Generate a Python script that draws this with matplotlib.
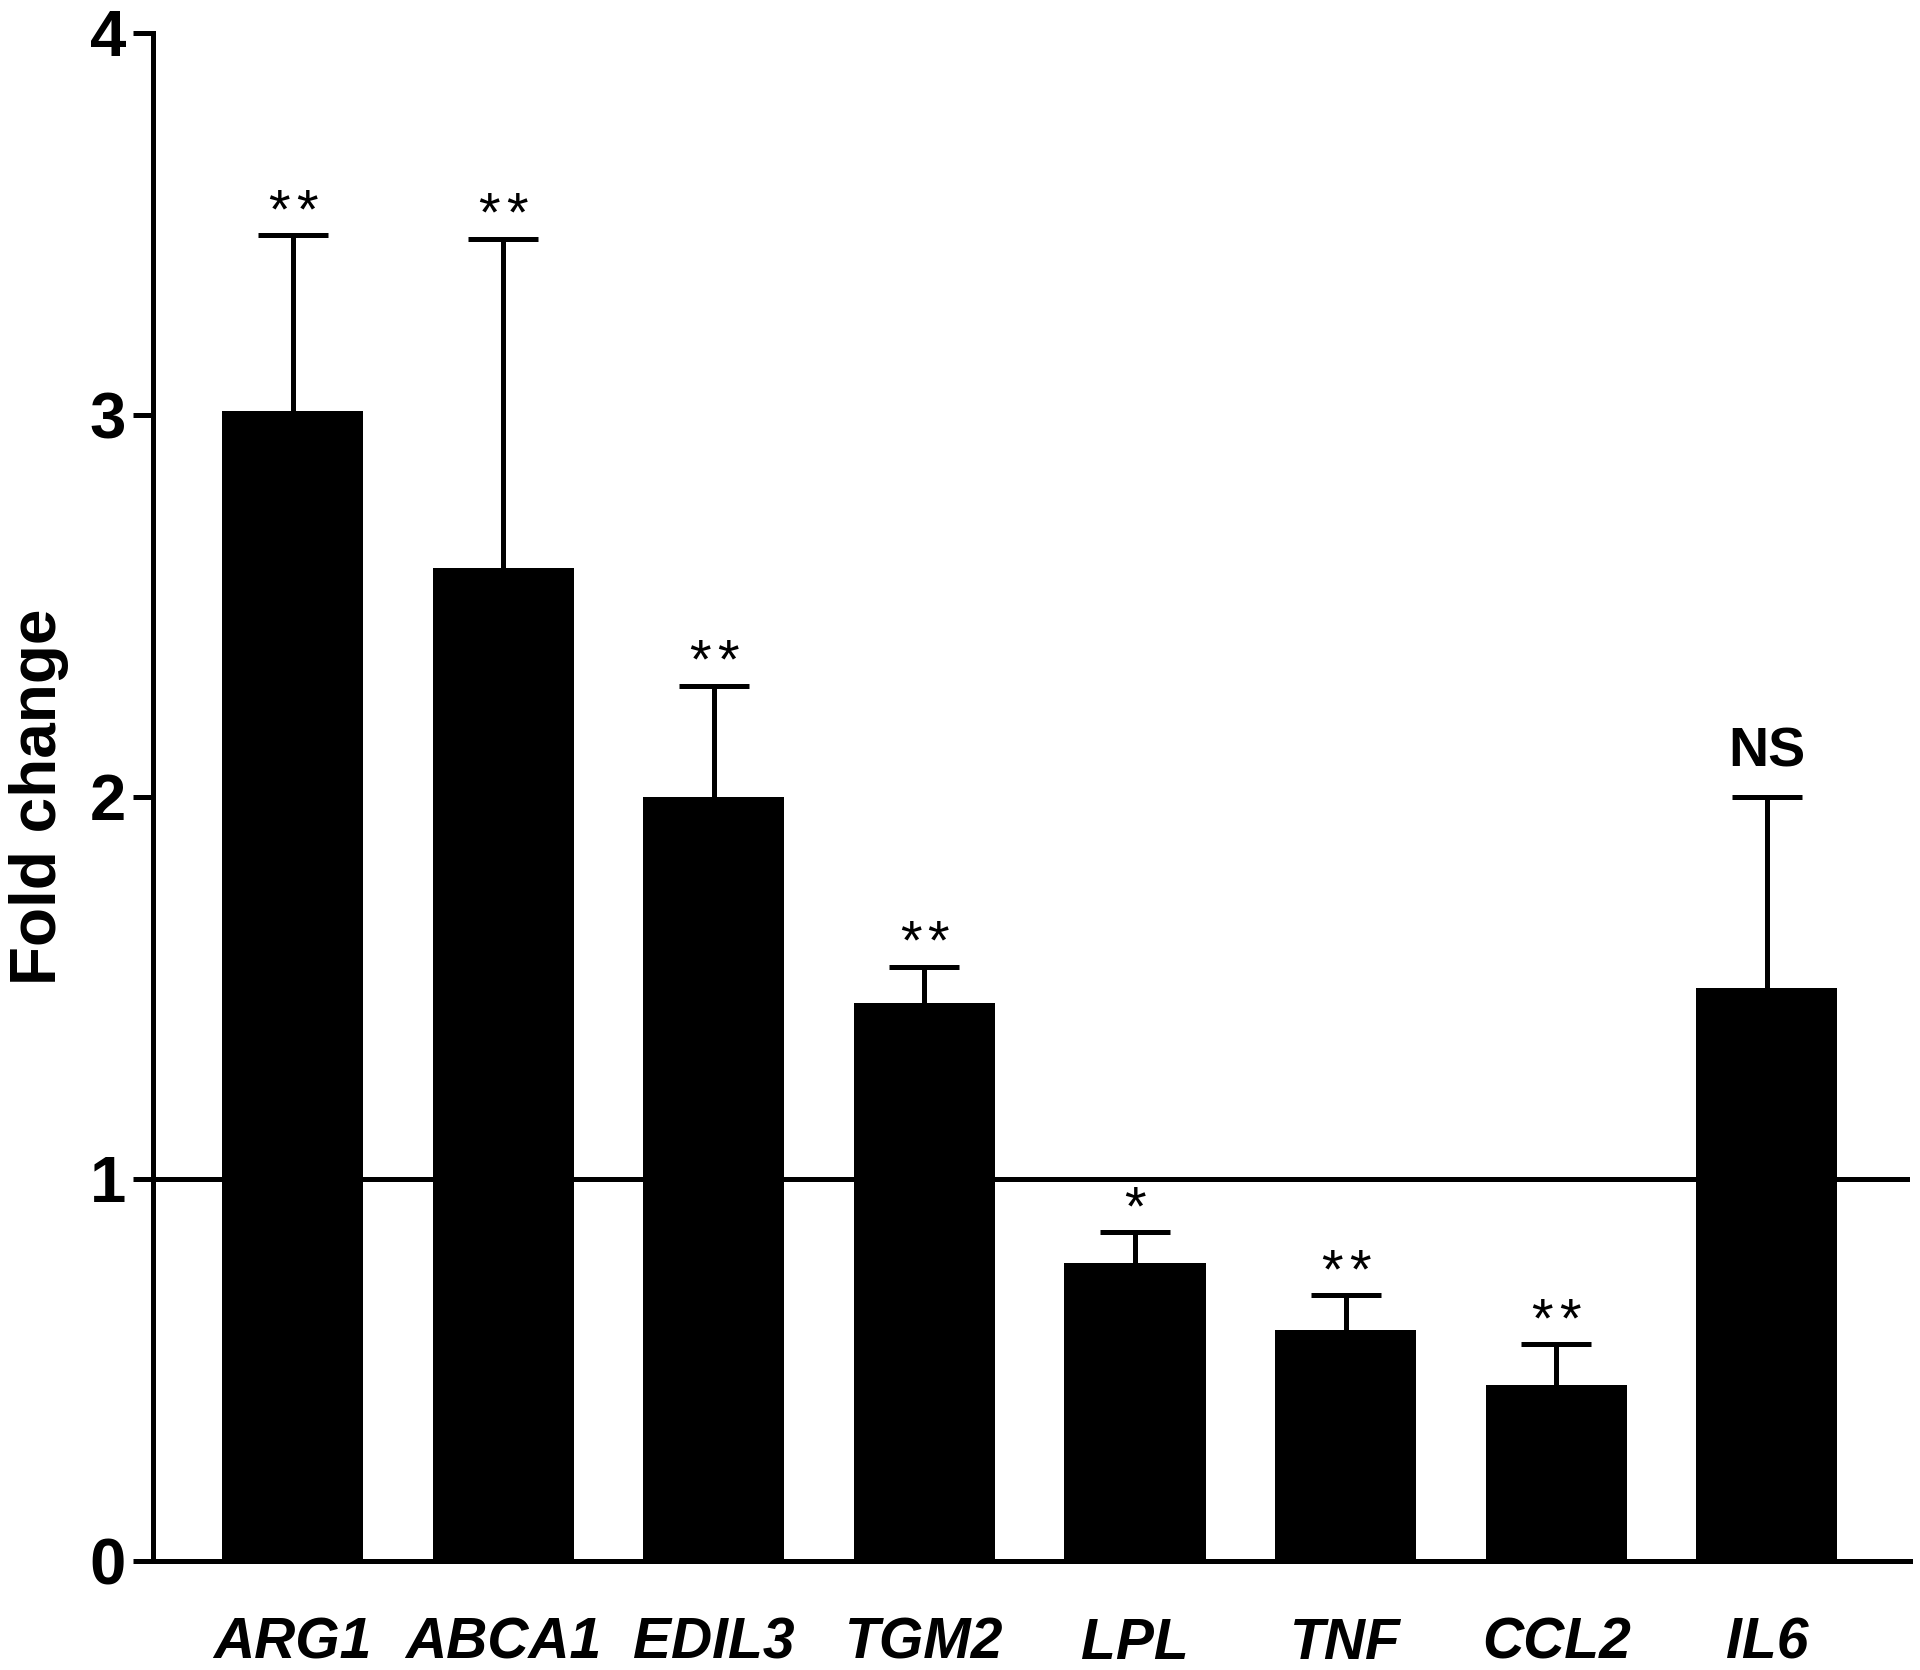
import matplotlib
matplotlib.use("Agg")
import matplotlib.pyplot as plt
import numpy as np

# fold change per gene, with upper SEM and significance marks
genes = ["ARG1", "ABCA1", "EDIL3", "TGM2", "LPL", "TNF", "CCL2", "IL6"]
fold = [3.01, 2.60, 2.00, 1.46, 0.78, 0.605, 0.46, 1.50]
err_up = [0.46, 0.86, 0.29, 0.095, 0.08, 0.09, 0.107, 0.50]
marks = ["**", "**", "**", "**", "*", "**", "**", "NS"]

plt.rcParams['font.family'] = ['Liberation Sans', 'DejaVu Sans']

fig = plt.figure(figsize=(19.2, 16.7), dpi=100)
ax = fig.add_axes([0.0797, 0.0653, 0.9151, 0.9150])

lw = 3.6
x = np.arange(len(genes))
tops = np.array(fold) + np.array(err_up)

ax.axhline(1, color='black', lw=lw, zorder=1)
# upper-only error bars: stem from bar top, cap at the top
ax.vlines(x, fold, tops, color='black', lw=lw, zorder=1.5)
ax.plot(x, tops, ls='none', marker='_', markersize=51, mew=lw,
        color='black', zorder=3)
ax.bar(x, fold, width=0.67, color='black', zorder=2)

# significance labels above the caps
for xi, t, m in zip(x, tops, marks):
    if m == "NS":
        ax.annotate(m, (xi, t), xytext=(0, 22), textcoords='offset points',
                    ha='center', va='baseline', fontsize=40, fontweight='bold')
    else:
        n = len(m)
        for k in range(n):
            dx = (k - (n - 1) / 2) * 20
            ax.annotate("*", (xi, t), xytext=(dx, 6), textcoords='offset points',
                        ha='center', va='baseline', fontsize=40)

ax.set_xlim(-0.663, 7.68)
ax.set_ylim(0, 4)
ax.set_yticks([0, 1, 2, 3, 4])
ax.set_xticks(x)
ax.set_xticklabels(genes, fontsize=41, fontweight='bold', fontstyle='italic')
for lab in ax.get_yticklabels():
    lab.set_fontsize(47)
    lab.set_fontweight('bold')

ax.tick_params(axis='x', length=0, pad=40)
ax.tick_params(axis='y', length=14.5, width=lw, pad=5)

for s in ['top', 'right']:
    ax.spines[s].set_visible(False)
for s in ['left', 'bottom']:
    ax.spines[s].set_linewidth(lw)

ax.set_ylabel("Fold change", fontsize=46, fontweight='bold')
ax.yaxis.set_label_coords(-0.048, 0.5)

fig.savefig("out.png", dpi=100)
